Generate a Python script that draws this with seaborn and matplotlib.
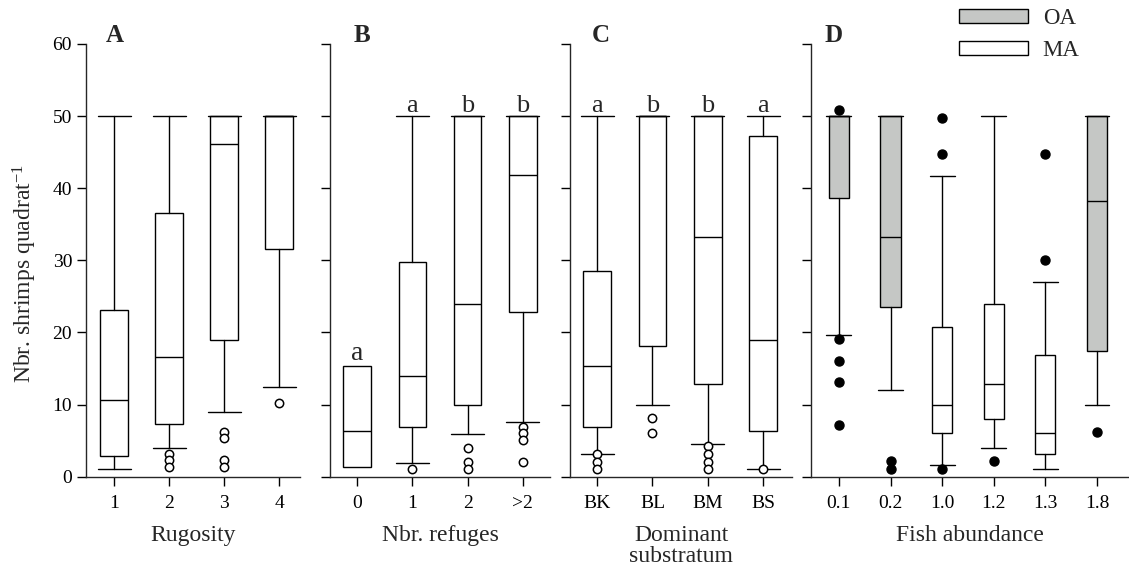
import matplotlib
matplotlib.use('Agg')
import matplotlib.pyplot as plt
from matplotlib.patches import Patch
import seaborn as sns
import numpy as np

# Panel A - rugosity
A_cats = ['1', '2', '3', '4']
A_q1 = [2.9, 7.3, 19.0, 31.6]
A_med = [10.6, 16.6, 46.1, 50.0]
A_q3 = [23.1, 36.6, 50.0, 50.0]
A_lo = [1.1, 4.0, 9.0, 12.4]
A_hi = [50, 50, 50, 50]
A_out = [[], [3.2, 2.3, 1.4], [6.2, 5.3, 2.3, 1.4], [10.2]]

# Panel B - number of refuges
B_cats = ['0', '1', '2', '>2']
B_q1 = [1.4, 6.9, 9.9, 22.8]
B_med = [6.4, 13.9, 23.9, 41.8]
B_q3 = [15.4, 29.8, 50, 50]
B_lo = [1.4, 1.9, 5.9, 7.6]
B_hi = [15.4, 50, 50, 50]
B_out = [[], [1.1], [4.0, 2.1, 1.1], [6.9, 6.0, 5.1, 2.0]]
B_sig = ['a', 'a', 'b', 'b']

# Panel C - dominant substratum
C_cats = ['BK', 'BL', 'BM', 'BS']
C_q1 = [6.9, 18.1, 12.8, 6.4]
C_med = [15.4, 50, 33.3, 18.9]
C_q3 = [28.5, 50, 50, 47.2]
C_lo = [3.1, 9.9, 4.6, 1.0]
C_hi = [50, 50, 50, 50]
C_out = [[3.1, 2.1, 1.1], [8.1, 6.0], [4.2, 3.1, 2.1, 1.1], [1.1]]
C_sig = ['a', 'b', 'b', 'a']

# Panel D - fish abundance, OA / MA
D_cats = ['0.1', '0.2', '1.0', '1.2', '1.3', '1.8']
D_area = ['OA', 'OA', 'MA', 'MA', 'MA', 'OA']
D_q1 = [38.7, 23.5, 6.0, 8.0, 3.1, 17.4]
D_med = [50, 33.3, 9.9, 12.9, 6.0, 38.2]
D_q3 = [50, 50, 20.8, 23.9, 16.9, 50]
D_lo = [19.7, 12.0, 1.6, 4.0, 1.0, 9.9]
D_hi = [50, 50, 41.7, 50, 27.0, 50]
D_out = [[50.8, 19.1, 16.1, 13.1, 7.1], [2.2, 1.1], [49.8, 44.8, 1.1],
         [2.2], [44.8, 30.0], [6.2]]

area_colors = {'OA': '#c5c7c5', 'MA': 'white'}

sns.set_theme(style='ticks')
plt.rcParams['font.family'] = ['Liberation Serif', 'DejaVu Serif']
plt.rcParams['mathtext.default'] = 'regular'
plt.rcParams['axes.linewidth'] = 1.0


def make_stats(q1, med, q3, lo, hi, out):
    return [dict(q1=a, med=b, q3=c, whislo=d, whishi=e, fliers=np.array(f))
            for a, b, c, d, e, f in zip(q1, med, q3, lo, hi, out)]


def draw_panel(ax, stats, cats, colors, widths, capwidths, filled, xlim):
    pos = np.arange(len(cats))
    if filled:
        flier = dict(marker='o', markerfacecolor='black', markeredgecolor='black',
                     markersize=6.5, linestyle='none')
    else:
        flier = dict(marker='o', markerfacecolor='white', markeredgecolor='black',
                     markersize=6, markeredgewidth=1.1, linestyle='none')
    art = ax.bxp(stats, positions=pos, widths=widths, capwidths=capwidths,
                 patch_artist=True, manage_ticks=False,
                 boxprops=dict(edgecolor='black', linewidth=1.0),
                 whiskerprops=dict(color='black', linewidth=1.0),
                 capprops=dict(color='black', linewidth=1.0),
                 medianprops=dict(color='black', linewidth=1.0),
                 flierprops=flier)
    for patch, c in zip(art['boxes'], colors):
        patch.set_facecolor(c)
    ax.set_xticks(pos)
    ax.set_xticklabels(cats)
    ax.set_xlim(*xlim)
    ax.set_ylim(0, 60)
    ax.set_yticks(range(0, 61, 10))
    ax.tick_params(axis='both', direction='out', length=6.5, width=1.0,
                   labelsize=14, colors='black')
    ax.tick_params(axis='x', pad=7)
    sns.despine(ax=ax)
    return pos


def add_sig(ax, pos, hi, letters, sizes):
    for x, h, s, fs in zip(pos, hi, letters, sizes):
        ax.text(x, h - 0.1, s, ha='center', va='bottom', fontsize=fs)


fig = plt.figure(figsize=(11.29, 5.68), dpi=100)
W, H = 1129, 568
bot = (H - 476.7) / H
hgt = (476.7 - 44) / H

axA = fig.add_axes([86 / W, bot, 214 / W, hgt])
axB = fig.add_axes([330 / W, bot, 220 / W, hgt])
axC = fig.add_axes([570 / W, bot, 222 / W, hgt])
axD = fig.add_axes([811 / W, bot, 317 / W, hgt])

pA = draw_panel(axA, make_stats(A_q1, A_med, A_q3, A_lo, A_hi, A_out), A_cats,
                ['white'] * 4, 0.5, 0.6, False, (-0.51, 3.38))
pB = draw_panel(axB, make_stats(B_q1, B_med, B_q3, B_lo, B_hi, B_out), B_cats,
                ['white'] * 4, 0.5, [0.0, 0.6, 0.6, 0.6], False, (-0.49, 3.49))
pC = draw_panel(axC, make_stats(C_q1, C_med, C_q3, C_lo, C_hi, C_out), C_cats,
                ['white'] * 4, 0.5, 0.6, False, (-0.49, 3.52))
pD = draw_panel(axD, make_stats(D_q1, D_med, D_q3, D_lo, D_hi, D_out), D_cats,
                [area_colors[a] for a in D_area], 0.39, 0.48, True, (-0.54, 5.6))

add_sig(axB, pB, B_hi, B_sig, [20, 19, 19, 19])
add_sig(axC, pC, C_hi, C_sig, [19] * 4)

for ax in [axB, axC, axD]:
    ax.set_yticklabels([])

axA.set_xlabel('Rugosity', fontsize=17, labelpad=9)
axB.set_xlabel('Nbr. refuges', fontsize=17, labelpad=9)
axC.set_xlabel('Dominant\nsubstratum', fontsize=17, labelpad=9, linespacing=1.0)
axD.set_xlabel('Fish abundance', fontsize=17, labelpad=9)
axA.set_ylabel('Nbr. shrimps quadrat$^{-1}$', fontsize=17)
axA.yaxis.set_label_coords(-0.22, 0.47)

for ax, letter, xf in [(axA, 'A', 0.136), (axB, 'B', 0.145),
                       (axC, 'C', 0.14), (axD, 'D', 0.07)]:
    ax.text(xf, 1.02, letter, transform=ax.transAxes, fontsize=18,
            fontweight='bold', ha='center', va='center')

handles = [Patch(facecolor=area_colors['OA'], edgecolor='black', linewidth=1.0),
           Patch(facecolor=area_colors['MA'], edgecolor='black', linewidth=1.0)]
axD.legend(handles, ['OA', 'MA'], loc='upper left',
           bbox_to_anchor=(959 / W, 1 - 8 / H), bbox_transform=fig.transFigure,
           frameon=False, fontsize=16.5, handlelength=3.0, handleheight=0.55,
           handletextpad=0.65, labelspacing=0.5, borderpad=0, borderaxespad=0)

plt.savefig('out.png', dpi=100)
